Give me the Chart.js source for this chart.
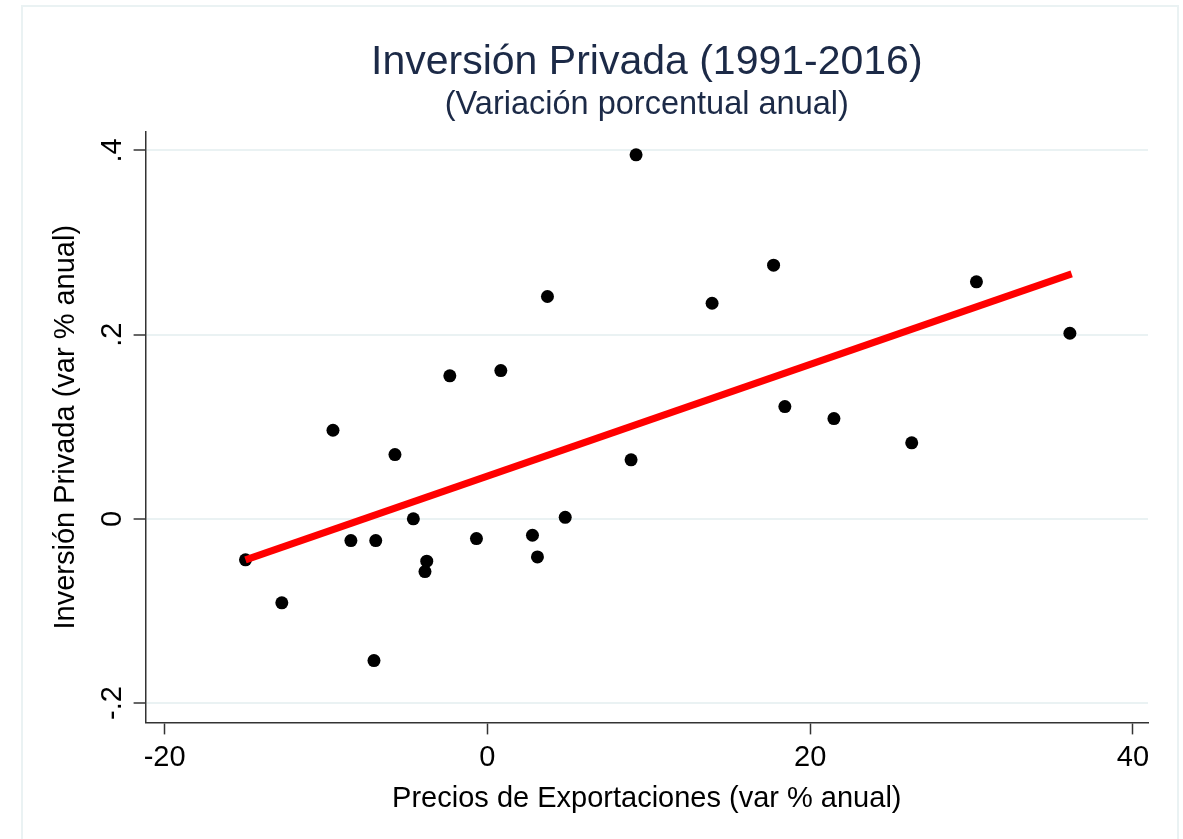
<!DOCTYPE html>
<html>
<head>
<meta charset="utf-8">
<script src="https://cdn.jsdelivr.net/npm/chart.js@4.4.1/dist/chart.umd.min.js"></script>
<style>
  body { margin: 0; background: #fff; }
  #wrap { width: 1183px; height: 839px; position: relative; }
</style>
</head>
<body>
<div id="wrap"><canvas id="chart"></canvas></div>
<script>
'use strict'

// Precios de exportaciones (var % anual), 1991-2016
var expX = [-14.99, -12.74, -9.57, -8.46, -6.92, -7.03, -5.73, -4.59, -3.76, -3.87,
	-2.33, -0.68, 0.83, 2.79, 3.10, 3.72, 4.82, 8.90, 9.21, 13.92,
	17.73, 18.43, 21.47, 26.29, 30.30, 36.09];
// Inversion privada (var % anual)
var invY = [-0.0445, -0.0912, 0.0962, -0.0236, -0.0236, -0.1539, 0.0698, 0.0, -0.046, -0.0572,
	0.1553, -0.0214, 0.161, -0.0178, -0.0413, 0.2414, 0.0017, 0.0641, 0.3952, 0.2341,
	0.2754, 0.1219, 0.1089, 0.0825, 0.2573, 0.2015];

// recta ajustada
var fitX = [-14.99, 36.2];
var fitY = [-0.0445, 0.266];

var xTicks = [-20, 0, 20, 40];
var xTickLabels = ['-20', '0', '20', '40'];
var yTicks = [-0.2, 0, 0.2, 0.4];
var yTickLabels = ['-.2', '0', '.2', '.4'];

var FONT = "'Liberation Sans', Arial, sans-serif";

var frame = {
	id: 'frame',
	beforeDraw: function(chart) {
		var c = chart.ctx;
		c.save();
		c.fillStyle = '#fff';
		c.fillRect(0, 0, chart.width, chart.height);
		c.strokeStyle = '#eaf2f3';
		c.lineWidth = 2;
		c.strokeRect(22, 6, 1156, 850);
		c.restore();
	}
};

function pairs(xs, ys) {
	var out = [];
	for (var i = 0; i < xs.length; i++) out.push({x: xs[i], y: ys[i]});
	return out;
}

window.onload = function() {
	var ctx = document.getElementById('chart').getContext('2d');

	var myChart = new Chart(ctx, {
		type: 'scatter',
		data: {
			datasets: [{
				type: 'line',
				label: 'Ajuste',
				data: pairs(fitX, fitY),
				borderColor: '#ff0000',
				borderWidth: 7,
				pointRadius: 0,
				fill: false,
				order: 0
			}, {
				label: 'Inversion',
				data: pairs(expX, invY),
				backgroundColor: '#000',
				borderColor: '#000',
				pointRadius: 6.5,
				pointBorderWidth: 0,
				order: 1
			}]
		},
		options: {
			responsive: true,
			maintainAspectRatio: false,
			animation: false,
			layout: { padding: { top: 20, left: 49, right: 35, bottom: 23 } },
			plugins: {
				legend: { display: false },
				tooltip: { enabled: false },
				title: {
					display: true,
					text: 'Inversión Privada (1991-2016)',
					fullSize: false,
					color: '#1c2a47',
					font: { family: FONT, size: 41, weight: 'normal', lineHeight: 1.0 },
					padding: { top: 22, bottom: 0 }
				},
				subtitle: {
					display: true,
					text: '(Variación porcentual anual)',
					fullSize: false,
					color: '#1c2a47',
					font: { family: FONT, size: 32.5, weight: 'normal', lineHeight: 1.2 },
					padding: { top: 3, bottom: 7 }
				}
			},
			scales: {
				x: {
					type: 'linear',
					min: -21.18,
					max: 40.93,
					afterBuildTicks: function(scale) {
						scale.ticks = xTicks.map(function(v) { return {value: v}; });
					},
					ticks: {
						color: '#000',
						font: { family: FONT, size: 29 },
						padding: 6,
						maxRotation: 0,
						callback: function(v) { return xTickLabels[xTicks.indexOf(v)]; }
					},
					grid: {
						drawOnChartArea: false,
						tickLength: 12,
						tickColor: '#333',
						tickWidth: 1.5
					},
					border: { display: true, color: '#333', width: 1.5 },
					title: {
						display: true,
						text: 'Precios de Exportaciones (var % anual)',
						color: '#000',
						font: { family: FONT, size: 29 },
						padding: { top: 0, bottom: 0 }
					}
				},
				y: {
					type: 'linear',
					min: -0.221,
					max: 0.42,
					afterBuildTicks: function(scale) {
						scale.ticks = yTicks.map(function(v) { return {value: v}; });
					},
					ticks: {
						color: '#000',
						font: { family: FONT, size: 29 },
						padding: 4,
						minRotation: 90,
						maxRotation: 90,
						crossAlign: 'center',
						callback: function(v) { return yTickLabels[yTicks.indexOf(v)]; }
					},
					grid: {
						color: '#eaf2f3',
						lineWidth: 2,
						tickLength: 12,
						tickColor: '#333',
						tickWidth: 1.5
					},
					border: { display: true, color: '#333', width: 1.5 },
					title: {
						display: true,
						text: 'Inversión Privada (var % anual)',
						color: '#000',
						font: { family: FONT, size: 29 },
						padding: { top: 0, bottom: 7 }
					}
				}
			}
		},
		plugins: [frame]
	});
};
</script>
</body>
</html>
